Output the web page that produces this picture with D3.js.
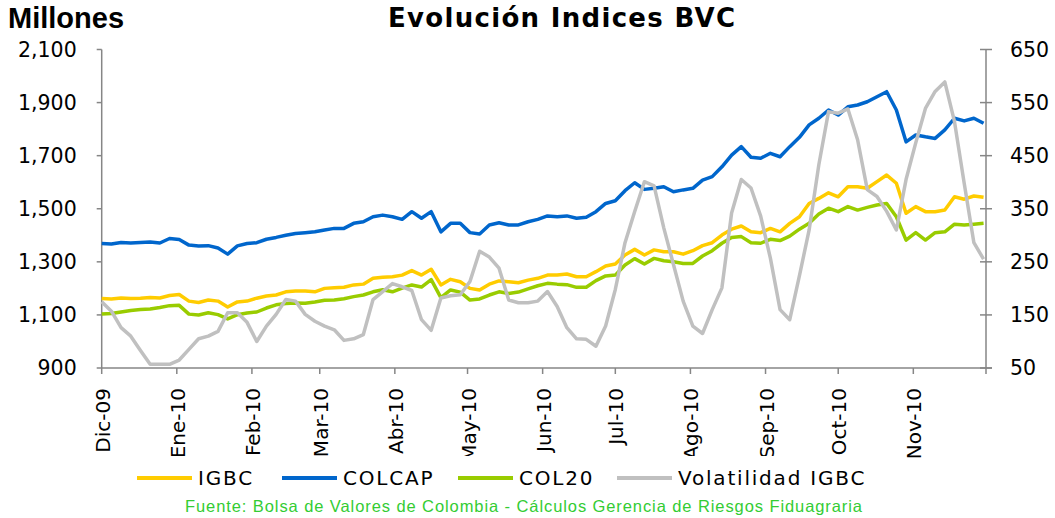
<!DOCTYPE html>
<html>
<head>
<meta charset="utf-8">
<script src="https://cdn.jsdelivr.net/npm/d3@7"></script>
<style>
  body { margin: 0; background: #fff; }
  svg { display: block; }
</style>
</head>
<body>
<div id="chart"></div>
<script>
// readings every 4 days, Dic-09 .. Nov-10
const startDate = new Date(2009, 11, 1);
const endDate = new Date(2010, 11, 1);
const dates = d3.timeDay.range(startDate, endDate, 4);

const monthLabels = ['Dic-09', 'Ene-10', 'Feb-10', 'Mar-10', 'Abr-10', 'May-10',
  'Jun-10', 'Jul-10', 'Ago-10', 'Sep-10', 'Oct-10', 'Nov-10'];
const leftTicks = [900, 1100, 1300, 1500, 1700, 1900, 2100];
const rightTicks = [50, 150, 250, 350, 450, 550, 650];

const igbc = [
  1162, 1160, 1164, 1162, 1163, 1166, 1164, 1173, 1177, 1152,
  1147, 1156, 1152, 1130, 1149, 1152, 1163, 1171, 1175, 1187,
  1190, 1190, 1187, 1200, 1202, 1204, 1213, 1216, 1238, 1242,
  1244, 1250, 1267, 1250, 1272, 1213, 1234, 1225, 1200, 1194,
  1216, 1228, 1225, 1221, 1231, 1238, 1250, 1250, 1254, 1244,
  1244, 1263, 1284, 1292, 1326, 1347, 1326, 1345, 1338, 1338,
  1329, 1342, 1361, 1372, 1401, 1423, 1435, 1413, 1410, 1426,
  1413, 1445, 1470, 1520, 1539, 1560, 1545, 1583, 1583, 1577,
  1602, 1627, 1596, 1483, 1508, 1489, 1489, 1495, 1545, 1536,
  1548, 1543];

const colcap = [
  1369, 1367, 1373, 1371, 1373, 1375, 1371, 1388, 1384, 1363,
  1360, 1361, 1352, 1329, 1360, 1369, 1372, 1385, 1392, 1400,
  1407, 1410, 1413, 1420, 1426, 1426, 1445, 1451, 1470, 1476,
  1470, 1460, 1489, 1464, 1489, 1413, 1445, 1445, 1410, 1405,
  1439, 1447, 1439, 1439, 1451, 1460, 1473, 1470, 1473, 1464,
  1468, 1489, 1520, 1530, 1568, 1598, 1573, 1577, 1583, 1564,
  1571, 1577, 1608, 1621, 1658, 1702, 1734, 1694, 1690, 1709,
  1696, 1734, 1769, 1816, 1841, 1872, 1853, 1884, 1891, 1903,
  1922, 1941, 1872, 1752, 1778, 1771, 1765, 1797, 1841, 1831,
  1841, 1822];

const col20 = [
  1103, 1105, 1111, 1117, 1120, 1122, 1128, 1135, 1136, 1103,
  1100, 1108, 1101, 1085, 1101, 1107, 1111, 1126, 1138, 1143,
  1145, 1144, 1149, 1155, 1156, 1161, 1169, 1175, 1187, 1195,
  1187, 1201, 1213, 1205, 1233, 1165, 1194, 1186, 1156, 1160,
  1175, 1187, 1181, 1186, 1198, 1210, 1219, 1216, 1214, 1204,
  1204, 1229, 1247, 1250, 1288, 1312, 1292, 1313, 1304, 1300,
  1294, 1294, 1322, 1342, 1370, 1392, 1395, 1372, 1370, 1385,
  1380, 1397, 1423, 1445, 1480, 1502, 1489, 1508, 1495, 1505,
  1514, 1520, 1470, 1382, 1410, 1382, 1410, 1413, 1442, 1439,
  1442, 1445];

const volatilidad = [
  175, 157, 126, 110, 83, 57, 57, 57, 65, 85,
  105, 110, 119, 154, 154, 136, 100, 129, 151, 179,
  176, 151, 138, 129, 122, 102, 105, 113, 179, 194,
  209, 203, 196, 141, 121, 182, 186, 188, 213, 270,
  259, 238, 178, 173, 173, 176, 194, 166, 126, 105,
  104, 91, 129, 198, 286, 345, 401, 393, 314, 245,
  176, 129, 115, 160, 201, 342, 405, 389, 336, 257,
  160, 141, 224, 310, 433, 533, 530, 538, 480, 386,
  373, 345, 310, 405, 474, 539, 571, 589, 514, 398,
  286, 255];

const width = 1055;
const height = 518;
const plot = {left: 101.7, right: 986, top: 49.5, bottom: 368};
const axisColor = '#868686';
const font = '"DejaVu Sans", Verdana, sans-serif';

const series = [
  {name: 'IGBC', values: igbc, color: '#FFCC00', axis: 'left'},
  {name: 'COLCAP', values: colcap, color: '#0066CC', axis: 'left'},
  {name: 'COL20', values: col20, color: '#99CC00', axis: 'left'},
  {name: 'Volatilidad IGBC', values: volatilidad, color: '#C0C0C0', axis: 'right'}
];

const svg = d3.select('#chart')
  .append('svg')
  .attr('width', width)
  .attr('height', height)
  .attr('viewBox', [0, 0, width, height]);

const x = d3.scaleTime()
  .domain([startDate, endDate])
  .range([plot.left, plot.right]);

const yLeft = d3.scaleLinear()
  .domain([900, 2100])
  .range([plot.bottom, plot.top]);

const yRight = d3.scaleLinear()
  .domain([50, 650])
  .range([plot.bottom, plot.top]);

// titles
svg.append('text')
  .attr('x', 8).attr('y', 28)
  .attr('font-family', '"Liberation Sans", Arial, sans-serif')
  .attr('font-weight', 'bold')
  .attr('font-size', 29)
  .text('Millones');

svg.append('text')
  .attr('x', 388).attr('y', 27)
  .attr('font-family', font)
  .attr('font-weight', 'bold')
  .attr('font-size', 26)
  .attr('textLength', 347)
  .attr('lengthAdjust', 'spacing')
  .text('Evolución Indices BVC');

// left axis
const gLeft = svg.append('g').attr('transform', `translate(${plot.left},0)`);
gLeft.append('line')
  .attr('y1', plot.top).attr('y2', plot.bottom)
  .attr('stroke', axisColor).attr('stroke-width', 1.5);
gLeft.selectAll('.tk').data(leftTicks).join('line')
  .attr('x1', -5).attr('x2', 0)
  .attr('y1', d => yLeft(d)).attr('y2', d => yLeft(d))
  .attr('stroke', axisColor).attr('stroke-width', 1.5);
gLeft.selectAll('text').data(leftTicks).join('text')
  .attr('x', -25)
  .attr('y', d => yLeft(d))
  .attr('dy', '0.36em')
  .attr('text-anchor', 'end')
  .attr('font-family', font)
  .attr('font-size', 20.5)
  .text(d => d3.format(',')(d));

// right axis
const gRight = svg.append('g').attr('transform', `translate(${plot.right},0)`);
gRight.append('line')
  .attr('y1', plot.top).attr('y2', plot.bottom)
  .attr('stroke', axisColor).attr('stroke-width', 1.5);
gRight.selectAll('.tk').data(rightTicks).join('line')
  .attr('x1', -6).attr('x2', 6)
  .attr('y1', d => yRight(d)).attr('y2', d => yRight(d))
  .attr('stroke', axisColor).attr('stroke-width', 1.5);
gRight.selectAll('text').data(rightTicks).join('text')
  .attr('x', 24)
  .attr('y', d => yRight(d))
  .attr('dy', '0.36em')
  .attr('font-family', font)
  .attr('font-size', 20.5)
  .text(d => d);

// bottom axis
const monthTicks = d3.timeMonth.range(startDate, endDate);
const gBottom = svg.append('g').attr('transform', `translate(0,${plot.bottom})`);
gBottom.append('line')
  .attr('x1', plot.left).attr('x2', plot.right + 6)
  .attr('stroke', axisColor).attr('stroke-width', 1.5);
gBottom.selectAll('.tk').data(monthTicks.concat([endDate])).join('line')
  .attr('x1', d => x(d)).attr('x2', d => x(d))
  .attr('y1', 0).attr('y2', 6)
  .attr('stroke', axisColor).attr('stroke-width', 1.5);

// month labels: middle ones are cut at the bottom like in the original
svg.append('clipPath').attr('id', 'lblclip')
  .append('rect').attr('x', 0).attr('y', 370).attr('width', width).attr('height', 86);

const labelText = (sel) => sel
  .attr('transform', d => `translate(${x(d)+8},388) rotate(-90)`)
  .attr('text-anchor', 'end')
  .attr('font-family', font)
  .attr('font-size', 20)
  .text(d => monthLabels[monthTicks.indexOf(d)]);

svg.append('g')
  .attr('clip-path', 'url(#lblclip)')
  .selectAll('text').data(monthTicks.slice(0, -1)).join('text')
  .call(labelText);

svg.append('g')
  .selectAll('text').data(monthTicks.slice(-1)).join('text')
  .call(labelText);

// lines
svg.append('g')
  .selectAll('path').data(series).join('path')
  .attr('fill', 'none')
  .attr('stroke', d => d.color)
  .attr('stroke-width', 3.5)
  .attr('stroke-linejoin', 'round')
  .attr('d', s => d3.line()
    .x((v, i) => x(dates[i]))
    .y(v => s.axis === 'left' ? yLeft(v) : yRight(v))(s.values));

// legend
const legendX = [137, 282, 458, 617];
const legend = svg.append('g')
  .selectAll('g').data(series).join('g')
  .attr('transform', (d, i) => `translate(${legendX[i]},478)`);
legend.append('line')
  .attr('x1', 0).attr('x2', 55)
  .attr('stroke', d => d.color).attr('stroke-width', 4);
legend.append('text')
  .attr('x', 61).attr('dy', '0.36em')
  .attr('font-family', font)
  .attr('font-size', 20)
  .attr('letter-spacing', 1.8)
  .text(d => d.name);

svg.append('text')
  .attr('x', 185).attr('y', 512)
  .attr('font-family', '"Liberation Sans", Arial, sans-serif')
  .attr('font-size', 16.5)
  .attr('fill', '#33CC33')
  .attr('textLength', 677)
  .attr('lengthAdjust', 'spacing')
  .text('Fuente: Bolsa de Valores de Colombia - Cálculos Gerencia de Riesgos Fiduagraria');
</script>
</body>
</html>
